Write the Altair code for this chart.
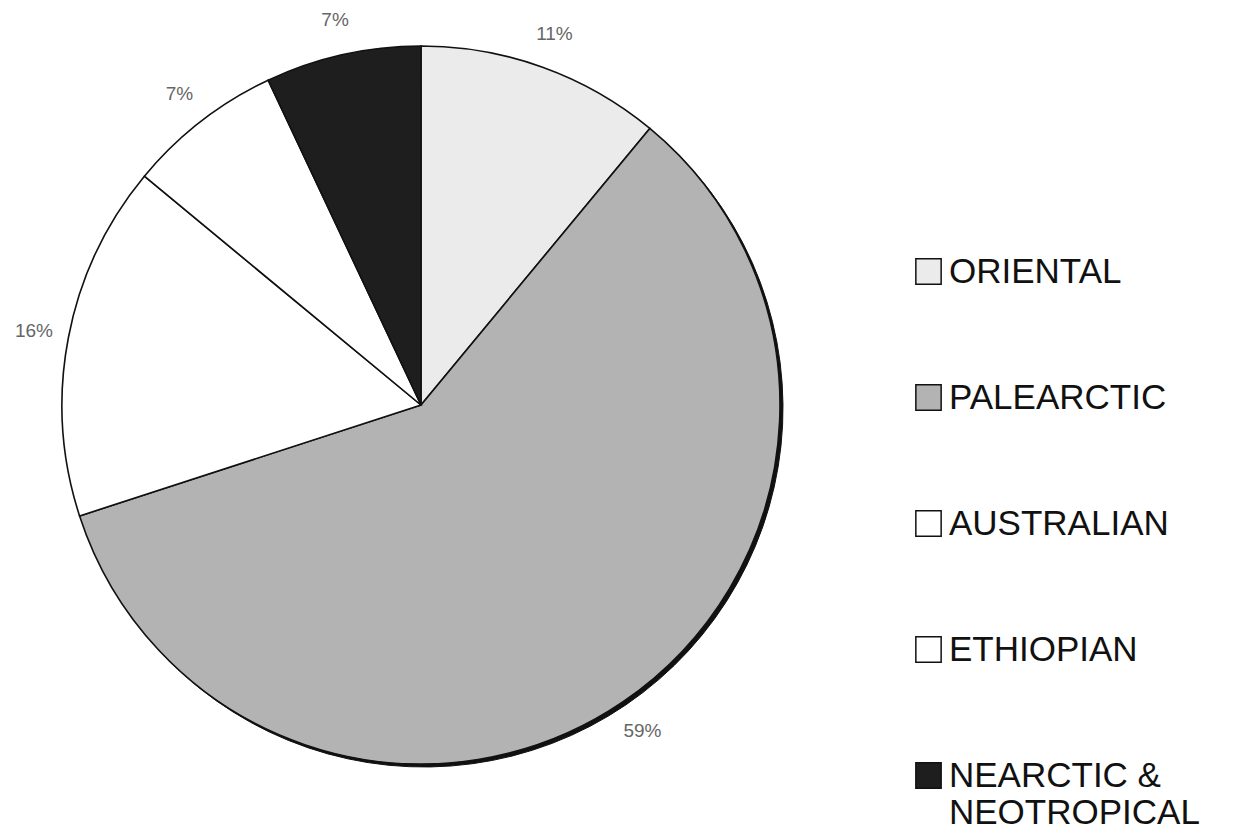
import altair as alt
import pandas as pd

regions = ["ORIENTAL", "PALEARCTIC", "AUSTRALIAN", "ETHIOPIAN", "NEARCTIC & NEOTROPICAL"]
shares = [11, 59, 16, 7, 7]
labels = ["11%", "59%", "16%", "7%", "7%"]
fills = ["#ebebeb", "#b3b3b3", "#ffffff", "#ffffff", "#1e1e1e"]

df = pd.DataFrame({"region": regions, "share": shares, "label": labels,
                   "order": list(range(len(regions)))})

CX, CY, R = 413, 397, 359

base = alt.Chart(df).encode(
    theta=alt.Theta("share:Q", stack=True),
    order=alt.Order("order:Q"),
)

shadow = base.mark_arc(radius=R, fill="#111111", stroke="#111111", strokeWidth=1,
                       xOffset=3, yOffset=3).encode(
    x=alt.value(CX), y=alt.value(CY))

pie = base.mark_arc(radius=R, stroke="#111111", strokeWidth=1.6).encode(
    x=alt.value(CX), y=alt.value(CY),
    color=alt.Color("region:N",
                    scale=alt.Scale(domain=regions, range=fills),
                    sort=regions,
                    legend=alt.Legend(
                        title=None, orient="none", legendX=903, legendY=246,
                        symbolType="square", symbolSize=640, symbolStrokeColor="#111111",
                        symbolStrokeWidth=1.5, symbolOpacity=1,
                        labelFont="Liberation Sans", labelFontSize=35, labelColor="#111111",
                        labelOffset=3, labelLimit=400, rowPadding=90, padding=0,
                        labelExpr="datum.label == 'NEARCTIC & NEOTROPICAL' ? ['NEARCTIC &', 'NEOTROPICAL'] : datum.label",
                    )),
)

text = base.mark_text(radius=R + 35, font="Liberation Sans", fontSize=19,
                      color="#666666").encode(
    x=alt.value(CX), y=alt.value(CY), text="label:N")

chart = alt.layer(shadow, pie, text).properties(
    width=1218, height=824, autosize=alt.AutoSizeParams(type="none"), padding=0,
).configure_view(stroke=None)

chart.save("out.html", embed_options={"renderer": "svg", "actions": False})
